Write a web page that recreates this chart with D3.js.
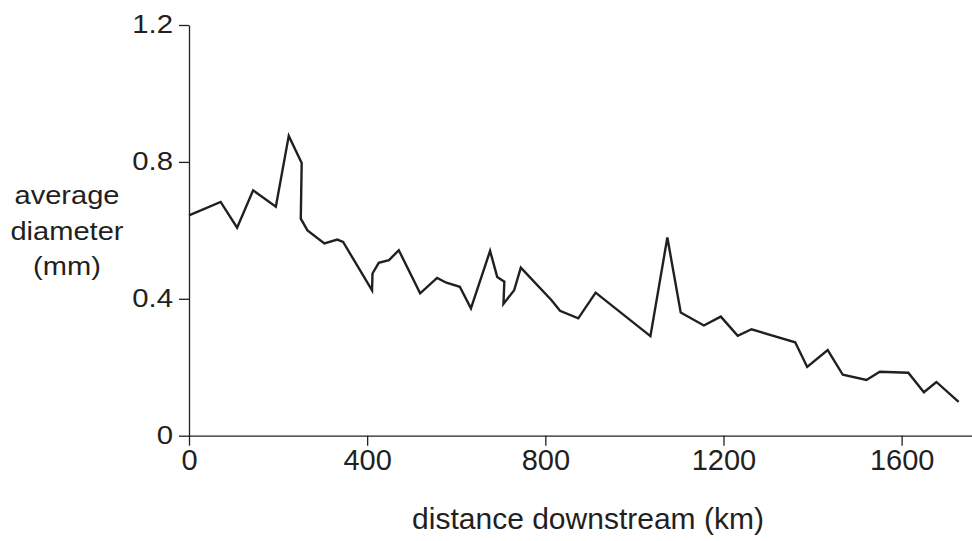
<!DOCTYPE html>
<html>
<head>
<meta charset="utf-8">
<script src="https://cdn.jsdelivr.net/npm/d3@7"></script>
<style>
  body { margin: 0; background: #fff; overflow: hidden; }
  text { font-family: "Liberation Sans", Arial, sans-serif; fill: #231f20; }
</style>
</head>
<body>
<svg id="main-svg" width="972" height="541"></svg>
<script>
'use strict';

// distance downstream (km) and average diameter (mm)
const distance = [
    0, 71, 108, 144, 195, 224, 253, 251, 266, 304, 333, 346,
    411, 412, 426, 449, 471, 519, 557, 578, 608, 633, 676, 692,
    708, 706, 730, 745, 814, 833, 874, 913, 1036, 1074, 1104, 1156,
    1194, 1232, 1263, 1361, 1388, 1434, 1468, 1521, 1551, 1615, 1650, 1678, 1728,
];
const diameter = [
    0.644, 0.683, 0.608, 0.717, 0.669, 0.876, 0.797, 0.634, 0.600, 0.562, 0.573, 0.566,
    0.425, 0.474, 0.505, 0.513, 0.542, 0.416, 0.461, 0.447, 0.435, 0.372, 0.540, 0.464,
    0.450, 0.385, 0.425, 0.491, 0.396, 0.365, 0.343, 0.418, 0.291, 0.579, 0.360, 0.322,
    0.348, 0.292, 0.311, 0.273, 0.201, 0.250, 0.178, 0.163, 0.187, 0.184, 0.127, 0.157, 0.099,
];
const x_ticks = [0, 400, 800, 1200, 1600];
const x_tick_labels = ['0', '400', '800', '1200', '1600'];
const y_ticks = [0, 0.4, 0.8, 1.2];
const y_tick_labels = ['0', '0.4', '0.8', '1.2'];
const y_title = ['average', 'diameter', '(mm)'];
const x_title = 'distance downstream (km)';

const ink = '#231f20';
const svg = d3.select('#main-svg');

const x = d3.scaleLinear().domain([0, 1758]).range([189, 972]);
const y = d3.scaleLinear().domain([0, 1.2]).range([435.7, 25]);

// y side text in the picture is a bit wider than plain Arial
const stretch = (sel, k) => {
    sel.each(function () {
        const w = this.getComputedTextLength();
        d3.select(this)
            .attr('textLength', w * k)
            .attr('lengthAdjust', 'spacingAndGlyphs');
    });
};

// axes
const x_axis = svg.append('g')
    .attr('transform', `translate(0,${y(0)})`)
    .call(d3.axisBottom(x).tickValues(x_ticks).tickSize(10).tickPadding(4).tickSizeOuter(0)
        .tickFormat((d, i) => x_tick_labels[i]));

const y_axis = svg.append('g')
    .attr('transform', `translate(${x(0)},0)`)
    .call(d3.axisLeft(y).tickValues(y_ticks).tickSize(10).tickPadding(6).tickSizeOuter(0)
        .tickFormat((d, i) => y_tick_labels[i]));

[x_axis, y_axis].forEach((g) => {
    g.select('.domain').attr('stroke', ink).attr('stroke-width', 1.3);
    g.selectAll('.tick line').attr('stroke', ink).attr('stroke-width', 1.3);
    g.selectAll('.tick text')
        .attr('fill', ink)
        .style('font-family', '"Liberation Sans", Arial, sans-serif');
});
x_axis.selectAll('.tick text').style('font-size', '29px').attr('dy', '0.71em');
y_axis.selectAll('.tick text').style('font-size', '25.5px').attr('dy', '0.3em')
    .call(stretch, 1.15);

// line
const line = d3.line()
    .x((d, i) => x(distance[i]))
    .y((d) => y(d));

svg.append('path')
    .datum(diameter)
    .attr('fill', 'none')
    .attr('stroke', ink)
    .attr('stroke-width', 2.4)
    .attr('stroke-linejoin', 'miter')
    .attr('d', line);

// titles
svg.append('text')
    .attr('x', 588)
    .attr('y', 529)
    .attr('text-anchor', 'middle')
    .style('font-size', '30px')
    .text(x_title);

svg.append('g').selectAll('text')
    .data(y_title)
    .enter().append('text')
    .attr('x', 67)
    .attr('y', (d, i) => 204 + i * 35.5)
    .attr('text-anchor', 'middle')
    .style('font-size', '25.5px')
    .text((d) => d)
    .call(stretch, 1.14);
</script>
</body>
</html>
